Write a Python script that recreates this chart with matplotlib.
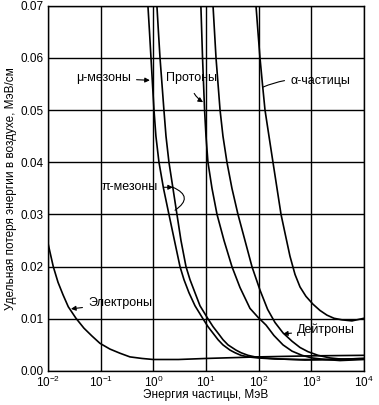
import numpy as np
import matplotlib
matplotlib.use('Agg')
import matplotlib.pyplot as plt

plt.rcParams['font.family'] = ['Liberation Sans', 'DejaVu Sans']
plt.rcParams['mathtext.fontset'] = 'custom'
plt.rcParams['mathtext.rm'] = 'Liberation Sans'
plt.rcParams['mathtext.it'] = 'Liberation Sans'
plt.rcParams['font.size'] = 8

# energia (MeV) y perdida especifica (MeV/cm)
e_electron = [0.01, 0.0109, 0.0126, 0.0155, 0.0193, 0.0243, 0.034, 0.0482, 0.0684, 0.097,
              0.150, 0.233, 0.36, 0.61, 1.0, 3.0, 10, 100, 1000, 10000]
v_electron = [0.0245, 0.0228, 0.020, 0.017, 0.0146, 0.0123, 0.0101, 0.0082, 0.0067, 0.0053,
              0.0042, 0.0034, 0.0027, 0.0024, 0.0022, 0.0022, 0.0024, 0.0027, 0.0029, 0.0030]

e_muon = [0.75, 0.79, 0.846, 0.903, 0.964, 1.03, 1.12, 1.28, 1.56, 1.98, 2.52, 3.21, 3.82, 4.75,
          6.18, 8.77, 10.9, 14.2, 16.9, 21.0, 28.6, 35.5, 46.2, 62.7, 97, 204, 610, 2260, 10000]
v_muon = [0.075, 0.07, 0.065, 0.06, 0.055, 0.05, 0.045, 0.04, 0.035, 0.03, 0.025, 0.02, 0.0175, 0.015,
          0.0125, 0.01, 0.0085, 0.007, 0.006, 0.005, 0.004, 0.0035, 0.003, 0.0027, 0.0025, 0.0023,
          0.0022, 0.0022, 0.0024]

e_pion = [1.1, 1.17, 1.25, 1.34, 1.46, 1.59, 1.74, 1.98, 2.36, 2.81, 3.35, 4.17, 4.97, 6.18,
          7.69, 10.9, 13.6, 17.7, 21.0, 26.2, 37.1, 46.2, 62.7, 85.1, 126, 254, 757, 2810, 10000]
v_pion = [0.075, 0.07, 0.065, 0.06, 0.055, 0.05, 0.045, 0.04, 0.035, 0.03, 0.025, 0.02, 0.0175, 0.015,
          0.0125, 0.01, 0.0085, 0.007, 0.006, 0.005, 0.004, 0.0035, 0.003, 0.0027, 0.0025, 0.0023,
          0.0021, 0.0022, 0.0024]

e_proton = [7.8, 8.0, 8.6, 9.4, 10.0, 10.9, 13.0, 16.2, 22.0, 31.1, 44.2, 68.4, 97, 138, 195,
            290, 430, 665, 1030, 1820, 3500, 10000]
v_proton = [0.075, 0.07, 0.06, 0.05, 0.045, 0.04, 0.035, 0.03, 0.025, 0.02, 0.016, 0.012, 0.0103,
            0.0088, 0.0068, 0.005, 0.0038, 0.003, 0.0025, 0.0022, 0.0020, 0.0022]

e_deuteron = [13.0, 13.6, 15.5, 18.5, 21.0, 25.0, 31.1, 40.5, 55.0, 74.6, 106, 148, 204, 290,
              430, 610, 863, 1340, 2260, 4350, 10000]
v_deuteron = [0.075, 0.07, 0.06, 0.05, 0.045, 0.04, 0.035, 0.03, 0.025, 0.02, 0.0155, 0.0118,
              0.0093, 0.0073, 0.0057, 0.0045, 0.0037, 0.003, 0.0025, 0.0022, 0.0023]

e_alpha = [85, 89, 97, 106, 118, 132, 157, 187, 223, 266, 323, 393, 490, 610, 791, 1074, 1460,
           1980, 2690, 3820, 5910, 10000]
v_alpha = [0.075, 0.07, 0.065, 0.06, 0.055, 0.05, 0.045, 0.04, 0.035, 0.03, 0.026, 0.022, 0.0185,
           0.0161, 0.0143, 0.0128, 0.0116, 0.0107, 0.0101, 0.0098, 0.0096, 0.0101]

x_ticks = [1e-2, 1e-1, 1e0, 1e1, 1e2, 1e3, 1e4]
x_labels = ['$10^{-2}$', '$10^{-1}$', '$10^{0}$', '$10^{1}$', '$10^{2}$', '$10^{3}$', '$10^{4}$']
y_ticks = [0.00, 0.01, 0.02, 0.03, 0.04, 0.05, 0.06, 0.07]

fig = plt.figure(figsize=(3.79, 4.05), dpi=100)
ax = fig.add_axes([0.1266, 0.084, 0.8338, 0.902])

for e, v in [(e_electron, v_electron), (e_muon, v_muon), (e_pion, v_pion),
             (e_proton, v_proton), (e_deuteron, v_deuteron), (e_alpha, v_alpha)]:
    ax.plot(e, v, color='black', lw=1.2, solid_joinstyle='round')

ax.set_xscale('log')
ax.set_xlim(1e-2, 1e4)
ax.set_ylim(0, 0.07)
ax.set_xticks(x_ticks)
ax.set_xticklabels(x_labels)
ax.minorticks_off()
ax.set_yticks(y_ticks)
ax.set_yticklabels(['%.2f' % t for t in y_ticks])
ax.tick_params(length=0, pad=3, labelsize=8.5)
ax.grid(True, color='black', lw=1)
for s in ax.spines.values():
    s.set_linewidth(1)

ax.set_xlabel('Энергия частицы, МэВ', fontsize=8.5, labelpad=-1)
ax.set_ylabel('Удельная потеря энергии в воздухе, МэВ/см', fontsize=8.5, labelpad=3)

# etiquetas de las curvas
arr = dict(arrowstyle='-|>', color='black', lw=0.8, mutation_scale=7, shrinkA=2, shrinkB=0)
line = dict(arrowstyle='-', color='black', lw=0.8, shrinkA=2, shrinkB=0)
ax.annotate('μ-мезоны', xy=(0.86, 0.0557), xytext=(0.377, 0.0561),
            ha='right', va='center', fontsize=9, arrowprops=arr)
ax.annotate('Протоны', xy=(8.8, 0.0515), xytext=(5.2, 0.0561),
            ha='center', va='center', fontsize=9,
            arrowprops=dict(arr, connectionstyle='arc3,rad=0.3', shrinkA=5))
ax.annotate('α-частицы', xy=(121, 0.0544), xytext=(394, 0.0556),
            ha='left', va='center', fontsize=9,
            arrowprops=dict(line, connectionstyle='arc3,rad=0.15'))
ax.annotate('π-мезоны', xy=(2.36, 0.0352), xytext=(1.24, 0.0352),
            ha='right', va='center', fontsize=9, arrowprops=arr)
ax.annotate('', xy=(2.58, 0.0308), xytext=(2.36, 0.0352),
            arrowprops=dict(line, shrinkA=0, connectionstyle='arc3,rad=-0.9'))
ax.annotate('Электроны', xy=(0.0273, 0.0119), xytext=(0.0575, 0.0130),
            ha='left', va='center', fontsize=9, arrowprops=arr)
ax.annotate('Дейтроны', xy=(290, 0.0071), xytext=(535, 0.00785),
            ha='left', va='center', fontsize=9, arrowprops=arr)

plt.savefig('out.png', dpi=100)
